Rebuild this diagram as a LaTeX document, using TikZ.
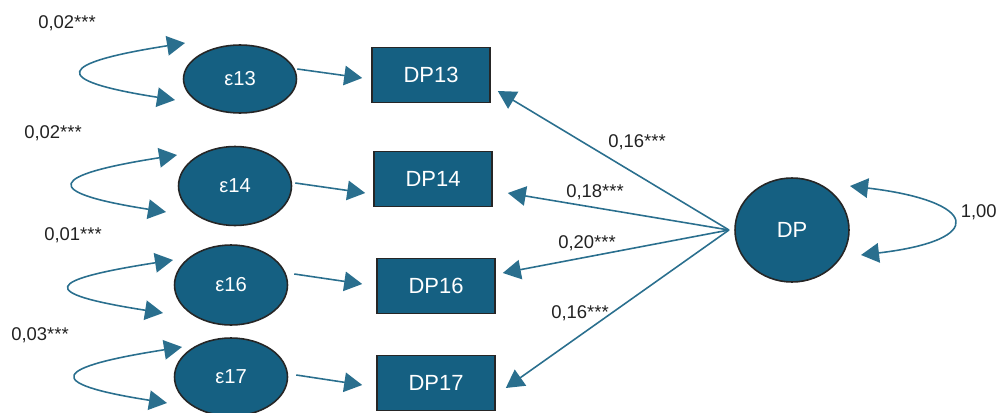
\documentclass[tikz,border=0pt]{standalone}
\usepackage{fontspec}
\setmainfont{Liberation Sans}
\usetikzlibrary{arrows.meta}
\usetikzlibrary{shapes.geometric}
\definecolor{semblue}{HTML}{156082}
\definecolor{semline}{HTML}{2A6F8E}
\definecolor{coeftext}{HTML}{222222}

\begin{document}
\begin{tikzpicture}[
    x=0.02cm, y=-0.02cm,
    arrowtip/.style={
      -{Triangle[length=3.6mm,width=3.9mm]}
    },
    bothtips/.style={
      {Triangle[length=3.6mm,width=3.9mm]}-{Triangle[length=3.6mm,width=3.9mm]}
    },
    conn/.style={draw=semline, line width=0.9pt},
    resid/.style={ellipse, fill=semblue, draw=black!85, line width=0.9pt,
      minimum width=2.26cm, minimum height=1.56cm, inner sep=0pt,
      text=white, font=\fontsize{11.5}{13}\selectfont},
    latent/.style={resid, minimum width=2.28cm, minimum height=2.08cm,
      font=\fontsize{12.5}{15}\selectfont},
    obsbox/.style={rectangle, fill=semblue, draw=black!85, line width=0.9pt,
      minimum width=2.36cm, minimum height=1.1cm, inner sep=0pt,
      text=white, font=\fontsize{12.5}{15}\selectfont},
    coef/.style={text=coeftext, font=\fontsize{10.5}{12}\selectfont, inner sep=1pt}
  ]
    \useasboundingbox (0,0) rectangle (999,412);

    % residuals and indicators
    \node[resid, minimum height=1.36cm] (E13) at (240,79) {ε13};
    \node[resid, minimum height=1.58cm] (E14) at (235,186) {ε14};
    \node[resid, minimum height=1.6cm] (E16) at (231,285) {ε16};
    \node[resid] (E17) at (231,377) {ε17};

    \node[obsbox] (DP13) at (431,75) {DP13};
    \node[obsbox] (DP14) at (433,179) {DP14};
    \node[obsbox] (DP16) at (436,286) {DP16};
    \node[obsbox] (DP17) at (436,383) {DP17};

    \node[latent] (DP) at (792,230) {DP};

    % residual variances
    \draw[conn,bothtips] ([shift={(-55,-36)}]E13.center)
      .. controls +(-128,20) and +(-128,-20) .. ([shift={(-65,21)}]E13.center);
    \draw[conn,bothtips] ([shift={(-58,-31)}]E14.center)
      .. controls +(-128,20) and +(-128,-20) .. ([shift={(-69,26)}]E14.center);
    \draw[conn,bothtips] ([shift={(-58,-25)}]E16.center)
      .. controls +(-128,20) and +(-128,-20) .. ([shift={(-68,28)}]E16.center);
    \draw[conn,bothtips] ([shift={(-49,-30)}]E17.center)
      .. controls +(-128,20) and +(-128,-20) .. ([shift={(-64,26)}]E17.center);
    \draw[conn,bothtips] ([shift={(58,-44)}]DP.center)
      .. controls +(128,15) and +(128,-15) .. ([shift={(69,25)}]DP.center);

    \node[coef] (V13) at (67,23) {0,02***};
    \node[coef] (V14) at (53,133) {0,02***};
    \node[coef] (V16) at (73,235) {0,01***};
    \node[coef] (V17) at (40,335) {0,03***};
    \node[coef, anchor=east, inner sep=0pt] (VDP) at (997,212) {1,00};

    % residual paths
    \draw[conn,arrowtip] ([shift={(0,-10)}]E13.east) -> ([shift={(-9,3)}]DP13.west);
    \draw[conn,arrowtip] ([shift={(3,-3)}]E14.east) -> ([shift={(-8,14)}]DP14.west);
    \draw[conn,arrowtip] ([shift={(6,-11)}]E16.east) -> ([shift={(-14,-2)}]DP16.west);
    \draw[conn,arrowtip] ([shift={(8,-2)}]E17.east) -> ([shift={(-14,2)}]DP17.west);

    % loadings
    \draw[conn,arrowtip] ([xshift=-3pt]DP.west) -> ([shift={(7,16)}]DP13.east);
    \draw[conn,arrowtip] ([xshift=-3pt]DP.west) -> ([shift={(15,14)}]DP14.east);
    \draw[conn,arrowtip] ([xshift=-3pt]DP.west) -> ([shift={(7,-13)}]DP16.east);
    \draw[conn,arrowtip] ([xshift=-3pt]DP.west) -> ([shift={(10,5)}]DP17.east);

    \node[coef] (L13) at (637,142) {0,16***};
    \node[coef] (L14) at (595,192) {0,18***};
    \node[coef] (L16) at (587,243) {0,20***};
    \node[coef] (L17) at (580,313) {0,16***};
  \end{tikzpicture}
\end{document}
